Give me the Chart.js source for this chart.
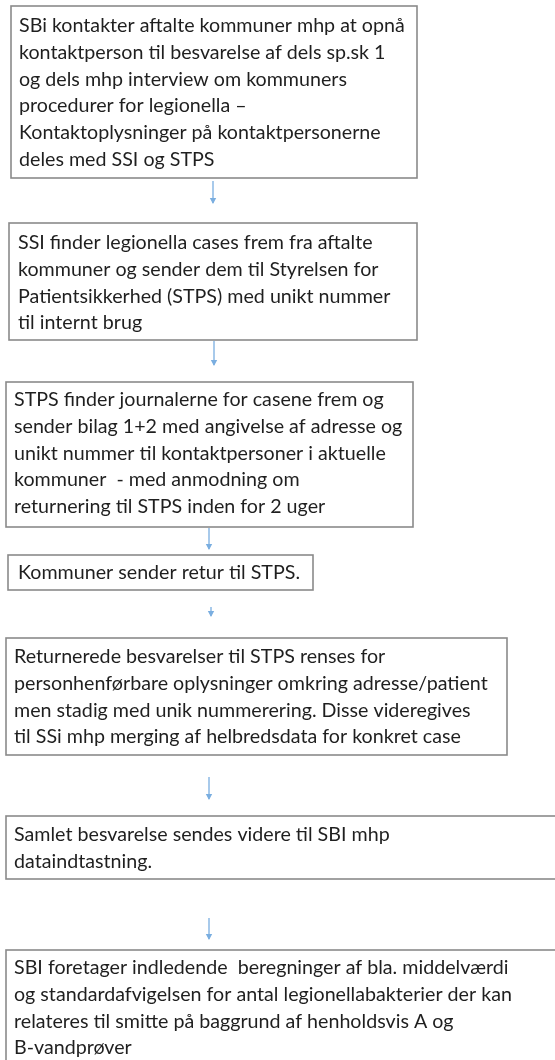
<!DOCTYPE html>
<html>
<head>
<meta charset="utf-8">
<script src="https://cdn.jsdelivr.net/npm/chart.js@4.4.1/dist/chart.umd.min.js"></script>
<style>
  html, body { margin: 0; padding: 0; background: #ffffff; }
  #wrap { width: 555px; height: 1060px; }
</style>
</head>
<body>
<div id="wrap"><canvas id="c" width="555" height="1060"></canvas></div>
<script>
// ---- content (the flowchart steps) ----
const step1 = [
  "SBi kontakter aftalte kommuner mhp at opnå",
  "kontaktperson til besvarelse af dels sp.sk 1",
  "og dels mhp interview om kommuners",
  "procedurer for legionella –",
  "Kontaktoplysninger på kontaktpersonerne",
  "deles med SSI og STPS"
];
const step2 = [
  "SSI finder legionella cases frem fra aftalte",
  "kommuner og sender dem til Styrelsen for",
  "Patientsikkerhed (STPS) med unikt nummer",
  "til internt brug"
];
const step3 = [
  "STPS finder journalerne for casene frem og",
  "sender bilag 1+2 med angivelse af adresse og",
  "unikt nummer til kontaktpersoner i aktuelle",
  "kommuner  - med anmodning om",
  "returnering til STPS inden for 2 uger"
];
const step4 = [
  "Kommuner sender retur til STPS."
];
const step5 = [
  "Returnerede besvarelser til STPS renses for",
  "personhenførbare oplysninger omkring adresse/patient",
  "men stadig med unik nummerering. Disse videregives",
  "til SSi mhp merging af helbredsdata for konkret case"
];
const step6 = [
  "Samlet besvarelse sendes videre til SBI mhp",
  "dataindtastning."
];
const step7 = [
  "SBI foretager indledende  beregninger af bla. middelværdi",
  "og standardafvigelsen for antal legionellabakterier der kan",
  "relateres til smitte på baggrund af henholdsvis A og",
  "B-vandprøver"
];
const steps = [step1, step2, step3, step4, step5, step6, step7];

// ---- layout (diagram units on the chart's x/y scales) ----
const layout = {
  boxes: [
    { x0: 11, y0: 6,   x1: 417, y1: 178,  tx: 19, ty: 26 },
    { x0: 9,  y0: 223, x1: 417, y1: 340,  tx: 18, ty: 243 },
    { x0: 6,  y0: 382, x1: 413, y1: 527,  tx: 14, ty: 400 },
    { x0: 8,  y0: 555, x1: 313, y1: 590,  tx: 18, ty: 573 },
    { x0: 6,  y0: 638, x1: 507, y1: 755,  tx: 14, ty: 657 },
    { x0: 6,  y0: 816, x1: 560, y1: 879,  tx: 14, ty: 835 },
    { x0: 6,  y0: 950, x1: 560, y1: 1066, tx: 14, ty: 968 }
  ],
  arrows: [
    { x: 213, y0: 181, y1: 207 },
    { x: 214, y0: 341, y1: 369 },
    { x: 209, y0: 528, y1: 553 },
    { x: 211, y0: 607, y1: 620 },
    { x: 209, y0: 777, y1: 803 },
    { x: 209, y0: 918, y1: 943 }
  ],
  lineGap: 26.7,
  fitLine: { box: 6, line: 1, width: 498 }
};

const FONT_FAMILY = "Lato, 'Open Sans', 'Noto Sans', sans-serif";
const TEXT_COLOR = "#1f1f1f";
const BORDER_COLOR = "#8a8a8a";
const ARROW_COLOR = "#7aaee0";

function fontSize(ctx) {
  ctx.save();
  ctx.font = "20px " + FONT_FAMILY;
  const w = ctx.measureText(steps[layout.fitLine.box][layout.fitLine.line]).width;
  ctx.restore();
  return 20 * layout.fitLine.width / w;
}

const boxesPlugin = {
  id: 'flowBoxes',
  beforeDatasetsDraw(chart) {
    const { ctx, scales: { x, y } } = chart;
    const fs = fontSize(ctx);
    ctx.save();
    layout.boxes.forEach((b, i) => {
      const px0 = x.getPixelForValue(b.x0), px1 = x.getPixelForValue(b.x1);
      const py0 = y.getPixelForValue(b.y0), py1 = y.getPixelForValue(b.y1);
      ctx.fillStyle = "#ffffff";
      ctx.fillRect(px0, py0, px1 - px0, py1 - py0);
      ctx.strokeStyle = BORDER_COLOR;
      ctx.lineWidth = 1.6;
      ctx.strokeRect(px0, py0, px1 - px0, py1 - py0);
      ctx.fillStyle = TEXT_COLOR;
      ctx.font = fs.toFixed(2) + "px " + FONT_FAMILY;
      ctx.textBaseline = "middle";
      ctx.textAlign = "left";
      steps[i].forEach((line, j) => {
        ctx.fillText(line, x.getPixelForValue(b.tx), y.getPixelForValue(b.ty + j * layout.lineGap));
      });
    });
    ctx.restore();
  },
  afterDatasetsDraw(chart) {
    const { ctx } = chart;
    ctx.save();
    chart.data.datasets.forEach((ds, i) => {
      const meta = chart.getDatasetMeta(i);
      const p0 = meta.data[0], p1 = meta.data[1];
      if (!p0 || !p1) return;
      ctx.fillStyle = ARROW_COLOR;
      ctx.beginPath();
      ctx.moveTo(p1.x, p1.y + 1);
      ctx.lineTo(p1.x - 3.2, p1.y - 5);
      ctx.lineTo(p1.x + 3.2, p1.y - 5);
      ctx.closePath();
      ctx.fill();
    });
    ctx.restore();
  }
};

const datasets = layout.arrows.map(a => ({
  type: 'line',
  data: [{ x: a.x, y: a.y0 }, { x: a.x, y: a.y1 - 4 }],
  borderColor: ARROW_COLOR,
  borderWidth: 1.3,
  pointRadius: 0,
  fill: false,
  tension: 0
}));

new Chart(document.getElementById('c'), {
  type: 'scatter',
  data: { datasets },
  options: {
    responsive: false,
    animation: false,
    events: [],
    layout: { padding: 0 },
    plugins: { legend: { display: false }, tooltip: { enabled: false }, title: { display: false } },
    scales: {
      x: { type: 'linear', min: 0, max: 555, display: false },
      y: { type: 'linear', min: 0, max: 1060, reverse: true, display: false }
    }
  },
  plugins: [boxesPlugin]
});
</script>
</body>
</html>
